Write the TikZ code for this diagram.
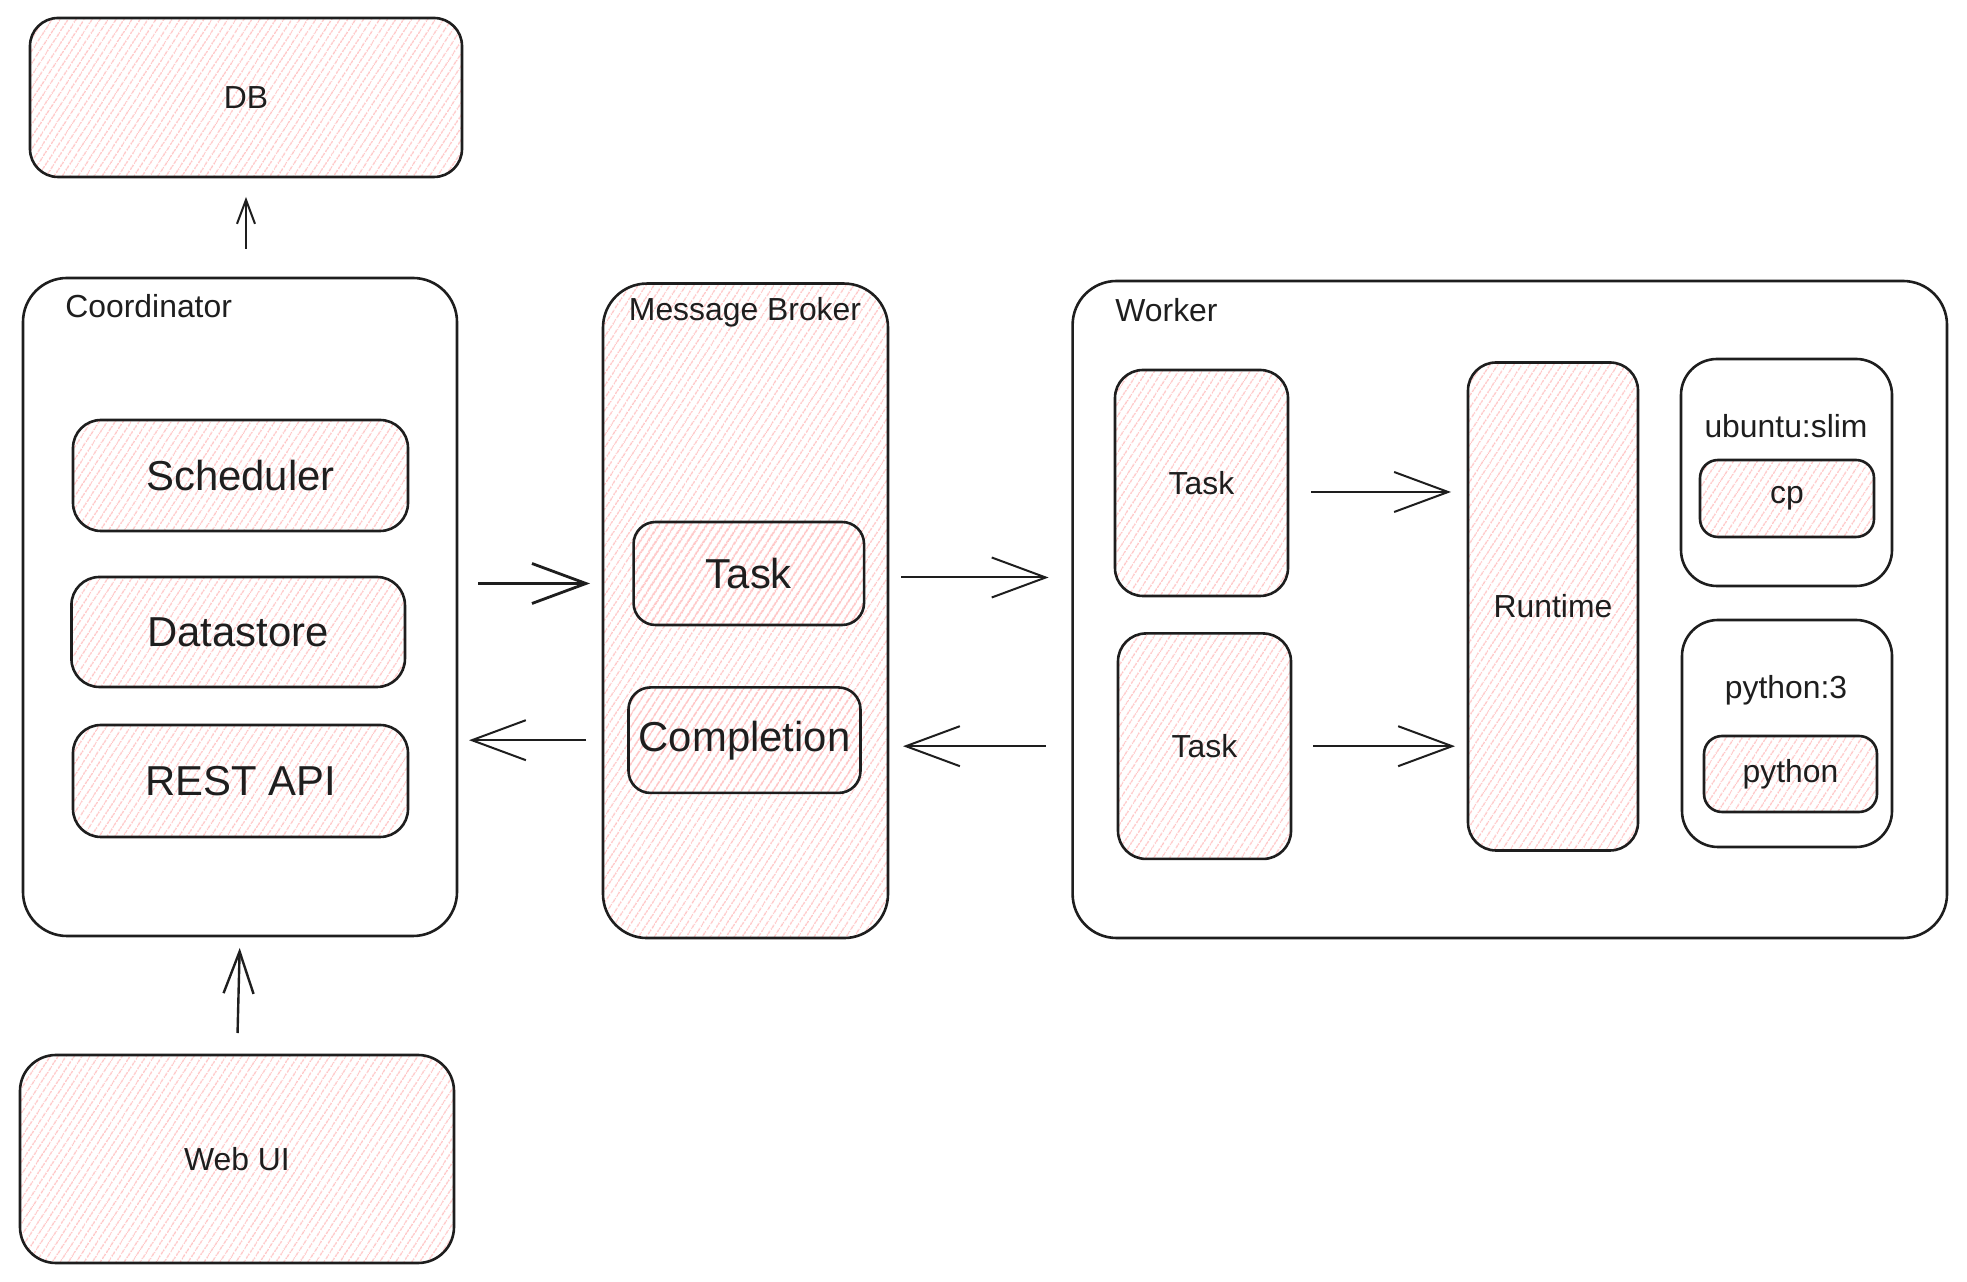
\documentclass[tikz,border=0pt]{standalone}
\usepackage{fontspec}
\setmainfont{Liberation Sans}
\usepackage{tikz}
\usetikzlibrary{arrows.meta,patterns.meta}
\definecolor{ink}{HTML}{1E1E1E}
\definecolor{hatchpink}{HTML}{FFC4C4}

\begin{document}
\begin{tikzpicture}[line join=round,
  box/.style={draw=ink,line width=1.3bp,rounded corners=14bp,inner sep=0pt,outer sep=0pt},
  hatched/.style={box,pattern={Lines[angle=57,distance=3.6bp,line width=0.75bp]},pattern color=hatchpink},
  small/.style={font=\fontsize{16}{19}\selectfont,text=ink},
  big/.style={font=\fontsize{21}{25}\selectfont,text=ink},
  link/.style={draw=ink,line width=1bp,-{Straight Barb[length=27bp,width=20bp]},shorten <=10bp,shorten >=7bp},
]
\useasboundingbox (0bp,0bp) rectangle (983.5bp,641bp);
%%
\node (db) at (123bp,592.25bp) [hatched,minimum width=216bp,minimum height=79.5bp,small] {DB};
  \node (coord) at (120bp,337.5bp) [box,rounded corners=22bp,minimum width=217bp,minimum height=329bp] {};
  \node (coordlbl) at (32.5bp,488bp) [anchor=west,inner sep=0pt,small] {Coordinator};
  \node (sched) at (120.25bp,403.25bp) [hatched,minimum width=167.5bp,minimum height=55.5bp,big] {Scheduler};
  \node (store) at (119.1bp,325bp) [hatched,minimum width=166.75bp,minimum height=55bp,big] {Datastore};
  \node (api) at (120.25bp,250.5bp) [hatched,minimum width=167.5bp,minimum height=56bp,big] {REST API};
  \node (webui) at (118.5bp,61.5bp) [hatched,rounded corners=18bp,minimum width=217bp,minimum height=104bp,small] {Web UI};
%
\node (broker) at (372.75bp,335.6bp) [hatched,rounded corners=22bp,minimum width=142.5bp,minimum height=327.25bp] {};
  \node (brokerlbl) at (372.5bp,485bp) [inner sep=0pt,small] {Message Broker};
  \node (btask) at (374.4bp,354.25bp) [hatched,rounded corners=11bp,minimum width=115.25bp,minimum height=51.5bp,big] {Task};
  \node (bdone) at (372.25bp,270.9bp) [hatched,rounded corners=11bp,minimum width=116bp,minimum height=52.75bp,big] {Completion};
%
\node (worker) at (754.9bp,336.25bp) [box,rounded corners=22bp,minimum width=437.2bp,minimum height=328.5bp] {};
  \node (workerlbl) at (557.5bp,486bp) [anchor=west,inner sep=0pt,small] {Worker};
  \node (wtask1) at (600.75bp,399.5bp) [hatched,minimum width=86.5bp,minimum height=113bp,small] {Task};
  \node (wtask2) at (602.25bp,267.9bp) [hatched,minimum width=86.5bp,minimum height=112.75bp,small] {Task};
  \node (runtime) at (776.5bp,337.75bp) [hatched,minimum width=85bp,minimum height=244bp,small] {Runtime};
  \node (ubuntu) at (893.25bp,404.75bp) [box,rounded corners=18bp,minimum width=105.5bp,minimum height=113.5bp] {};
  \node (ubuntulbl) at (893bp,428bp) [inner sep=0pt,small] {ubuntu:slim};
  \node (cp) at (893.5bp,391.75bp) [hatched,rounded corners=9bp,minimum width=87bp,minimum height=38.5bp,small] {cp};
  \node (pyimg) at (893.5bp,274.25bp) [box,rounded corners=18bp,minimum width=105bp,minimum height=113.5bp] {};
  \node (pyimglbl) at (893bp,296bp) [inner sep=0pt,small] {python:3};
  \node (python) at (895.25bp,254bp) [hatched,rounded corners=9bp,minimum width=86.5bp,minimum height=38bp,small] {python};
%
\draw [link,-{Straight Barb[length=12bp,width=9bp]},shorten <=14.5bp,shorten >=10bp] (db.south |- coord.north) -- (db.south);
  \draw [link,line width=1.2bp,-{Straight Barb[length=21bp,width=15bp]},shorten <=11bp,shorten >=6bp] (webui.north) -- (coord.south);
  \draw [link,line width=1.4bp,shorten <=10.5bp,shorten >=6.5bp] ([yshift=-5bp]coord.east |- btask) -- ([yshift=-5bp]broker.west |- btask);
  \draw [link,shorten <=8.5bp,shorten >=6bp] (broker.west |- bdone) -- (coord.east |- bdone);
  \draw [link,shorten <=6.5bp,shorten >=12bp] ([yshift=-2bp]broker.east |- btask) -- ([yshift=-2bp]worker.west |- btask);
  \draw [link,shorten <=13.5bp,shorten >=7.5bp] ([yshift=-3bp]worker.west |- bdone) -- ([yshift=-3bp]broker.east |- bdone);
  \draw [link,shorten <=11.5bp,shorten >=8.5bp] ([yshift=-4.5bp]wtask1.east) -- ([yshift=-4.5bp]runtime.west |- wtask1);
  \draw [link,shorten <=11bp,shorten >=6.5bp] (wtask2.east) -- (runtime.west |- wtask2);
%
\end{tikzpicture}
\end{document}
